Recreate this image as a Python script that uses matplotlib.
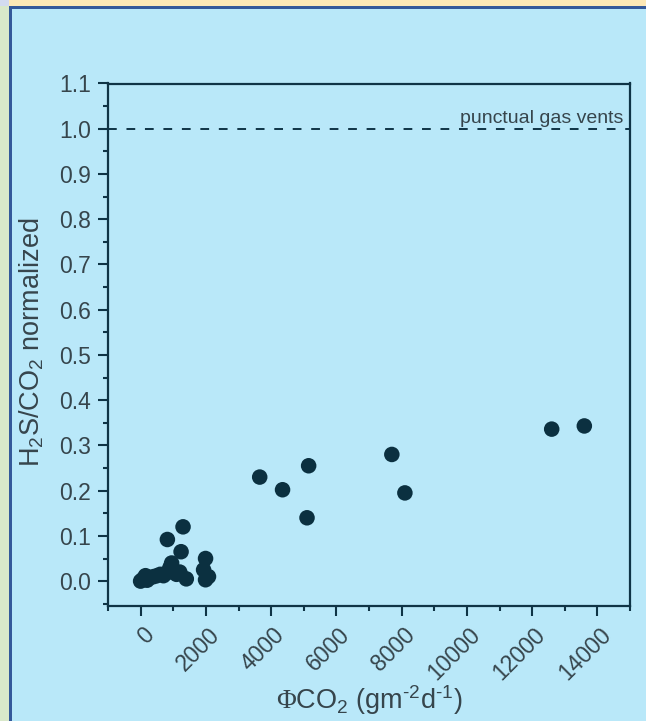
import matplotlib
matplotlib.use("Agg")
import matplotlib.pyplot as plt
import matplotlib.transforms as mtransforms
from matplotlib.patches import Rectangle
from matplotlib.ticker import MultipleLocator, FormatStrFormatter

plt.rcParams['font.family'] = ['Liberation Sans', 'DejaVu Sans']
plt.rcParams['mathtext.fontset'] = 'custom'
plt.rcParams['mathtext.rm'] = 'Liberation Sans'
plt.rcParams['mathtext.it'] = 'Liberation Sans:italic'
plt.rcParams['mathtext.sf'] = 'Liberation Serif'

# CO2 flux (g m-2 d-1) and normalized H2S/CO2 ratio
flux_co2 = [0, 80, 150, 200, 300, 400, 500, 600, 700, 800, 900, 950,
            1000, 1100, 1200, 1400, 1300, 820, 1240, 1990, 1930, 2080, 1990,
            3650, 4350, 5150, 5100, 7700, 8100, 12600, 13600]
h2s_co2 = [0.000, 0.005, 0.012, 0.002, 0.008, 0.010, 0.012, 0.015, 0.012,
           0.018, 0.030, 0.040, 0.025, 0.015, 0.020, 0.005, 0.120, 0.092,
           0.065, 0.050, 0.025, 0.010, 0.003,
           0.230, 0.202, 0.255, 0.140, 0.280, 0.195, 0.336, 0.343]

vent_level = 1.0
vent_label = "punctual gas vents"

bg = "#b9e8f9"
ink = "#0f3446"
txt = "#36454c"
dot = "#0b3040"

W, H = 646, 721
fig = plt.figure(figsize=(W / 100, H / 100), dpi=100, facecolor=bg)

# page frame strips
def px_rect(x0, y0, w, h, color):
    fig.patches.append(Rectangle((x0 / W, 1 - (y0 + h) / H), w / W, h / H,
                                 transform=fig.transFigure, color=color,
                                 lw=0, zorder=-1))

px_rect(0, 0, W, 6, "#fde8b6")
px_rect(0, 0, 9, H, "#d9e8ca")
px_rect(0, 0, 9, 6, "#d3dbf0")
px_rect(9, 6, W, 3, "#34599a")
px_rect(9, 6, 3, H, "#34599a")

ax = fig.add_axes([108 / W, 1 - 606 / H, (630 - 108) / W, (606 - 83.5) / H])
ax.set_facecolor(bg)

ax.scatter(flux_co2, h2s_co2, s=125, color=dot, edgecolors="none", zorder=3)

ax.axhline(vent_level, color=ink, lw=1.4, dashes=(4.5, 5.0), zorder=2)
tr = mtransforms.blended_transform_factory(ax.transAxes, ax.transData)
ax.text(0.988, vent_level + 0.004, vent_label, transform=tr, ha="right",
        va="bottom", fontsize=14, color=txt)

ax.set_xlim(-1000, 15000)
ax.set_ylim(-0.055, 1.1)

ax.xaxis.set_major_locator(MultipleLocator(2000))
ax.xaxis.set_minor_locator(MultipleLocator(1000))
ax.yaxis.set_major_locator(MultipleLocator(0.1))
ax.yaxis.set_minor_locator(MultipleLocator(0.05))
ax.yaxis.set_major_formatter(FormatStrFormatter("%.1f"))

for sp in ax.spines.values():
    sp.set_color(ink)
    sp.set_linewidth(1.6)

ax.tick_params(which="both", direction="out", color=ink, width=1.5,
               labelcolor=txt, labelsize=16.5)
ax.tick_params(which="major", length=7.5)
ax.tick_params(which="minor", length=3.5)
ax.tick_params(axis="y", pad=5)
ax.tick_params(axis="x", pad=11)

offset = mtransforms.ScaledTranslation(10 / 100, 0, fig.dpi_scale_trans)
for lab in ax.get_xticklabels():
    lab.set_rotation(45)
    lab.set_ha("right")
    lab.set_va("center")
    lab.set_rotation_mode("anchor")
    lab.set_transform(lab.get_transform() + offset)

ax.set_xlabel(r"$\mathsf{\Phi}$CO$_2$ (gm$^{\text{-}2}$d$^{\text{-}1}$)",
              fontsize=19.5, color=txt)
ax.xaxis.set_label_coords(0.5, -0.147)
ax.set_ylabel(r"H$_2$S/CO$_2$ normalized", fontsize=19.5, color=txt)
ax.yaxis.set_label_coords(-0.119, 0.505)

fig.savefig("out.png", dpi=100, facecolor=bg)
